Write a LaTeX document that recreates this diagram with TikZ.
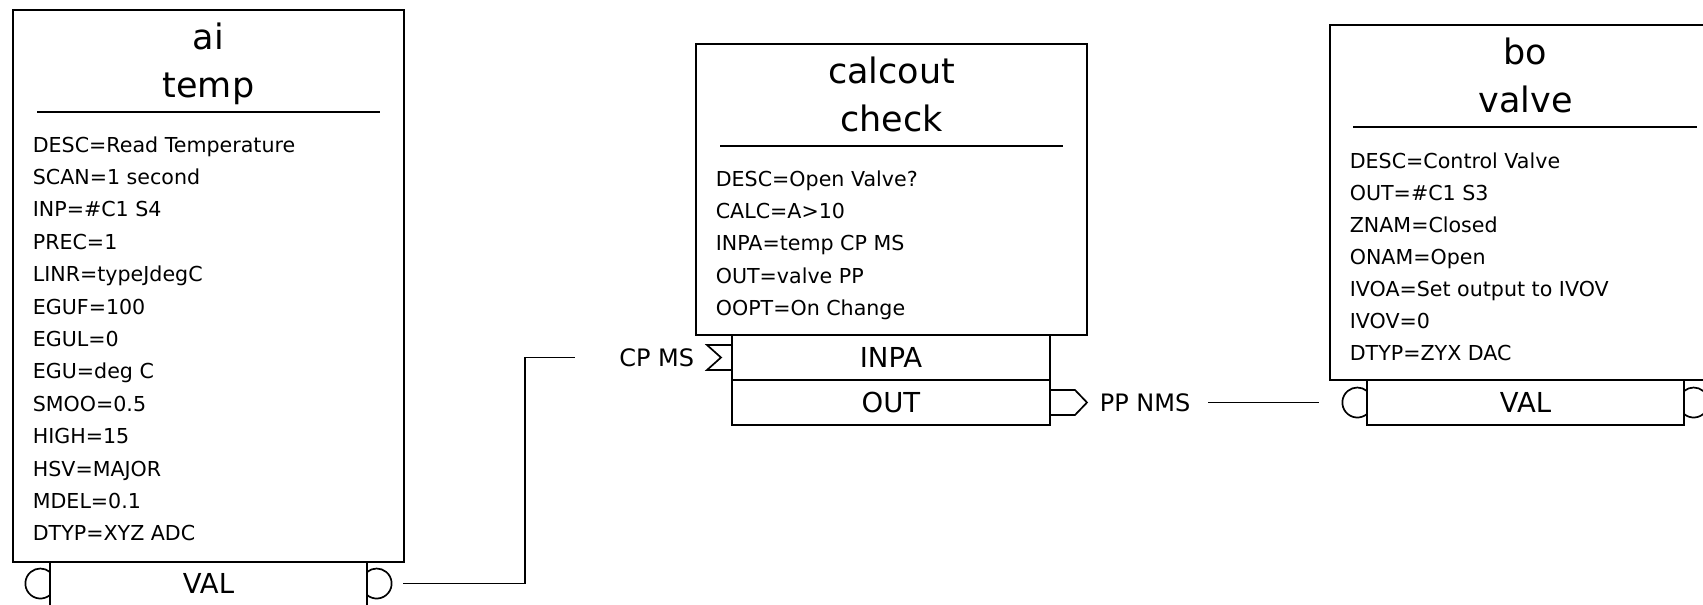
\documentclass[tikz,border=0pt]{standalone}
\usepackage{fontspec}
\setmainfont{DejaVu Sans}
\newcommand\ttlfont{\fontsize{35}{40}\selectfont}
\newcommand\recfont{\fontsize{20.6}{24}\selectfont}
\newcommand\fldfont{\fontsize{27.5}{32}\selectfont}
\newcommand\lnkfont{\fontsize{24}{28}\selectfont}
\begin{document}
\begin{tikzpicture}[x=1pt,y=-1pt,line width=1.7pt,
  record/.style={draw,rectangle,inner sep=0pt,minimum width=391pt},
  fieldrow/.style={draw,rectangle,inner sep=0pt,minimum width=317pt,minimum height=45pt},
  rtitle/.style={anchor=base,inner sep=0pt,font=\ttlfont},
  attr/.style={anchor=base west,inner sep=0pt,font=\recfont},
  fld/.style={anchor=base,inner sep=0pt,font=\fldfont},
  lnk/.style={inner sep=0pt,font=\lnkfont},
  wire/.style={line width=1.7pt}]
\useasboundingbox (0,0) rectangle (1703,605);
\clip (0,0) rectangle (1703,605);

% ---------------- ai record "temp" ----------------
\node[record,minimum height=552pt] (ai) at (208.5,286) {};
\node[rtitle] (aiType) at (208.5,49) {ai};
\node[rtitle] (aiName) at (208.5,97) {temp};
\draw (37,112) -- (380,112);
\foreach \t [count=\i from 0] in {DESC=Read Temperature,SCAN=1 second,INP=\#C1 S4,PREC=1,LINR=typeJdegC,EGUF=100,EGUL=0,EGU=deg C,SMOO=0.5,HIGH=15,HSV=MAJOR,MDEL=0.1,DTYP=XYZ ADC}
  \node[attr] (ai-\i) at (32,152+32.4*\i) {\t};
\node[fieldrow] (aiVAL) at (208.5,584.5) {};
\node[fld] (aiVALlbl) at (208.5,593) {VAL};
\draw (50,595) arc[start angle=50,end angle=310,radius=15];
\draw (367,595) arc[start angle=130,end angle=-130,radius=15];

% ---------------- calcout record "check" ----------------
\node[record,minimum height=291pt] (calc) at (891.5,189.5) {};
\node[rtitle] (calcType) at (891.5,83) {calcout};
\node[rtitle] (calcName) at (891.5,131) {check};
\draw (720,146) -- (1063,146);
\foreach \t [count=\i from 0] in {DESC=Open Valve?,CALC=A>10,INPA=temp CP MS,OUT=valve PP,OOPT=On Change}
  \node[attr] (calc-\i) at (715,186+32.4*\i) {\t};
\node[fieldrow,minimum width=318pt] (calcINPA) at (891,357.5) {};
\node[fld] (calcINPAlbl) at (891,367.5) {INPA};
\node[fieldrow,minimum width=318pt] (calcOUT) at (891,402.5) {};
\node[fld] (calcOUTlbl) at (891,412.5) {OUT};
% input link marker
\draw (732,345) -- (707,345) -- (721,357.5) -- (707,370) -- (732,370);
% output link marker
\draw (1050,390) -- (1075,390) -- (1087,402.5) -- (1075,415) -- (1050,415);

% ---------------- bo record "valve" ----------------
\node[record,minimum height=355pt] (bo) at (1525.5,202.5) {};
\node[rtitle] (boType) at (1525.5,64) {bo};
\node[rtitle] (boName) at (1525.5,112) {valve};
\draw (1353,127) -- (1697,127);
\foreach \t [count=\i from 0] in {DESC=Control Valve,OUT=\#C1 S3,ZNAM=Closed,ONAM=Open,IVOA=Set output to IVOV,IVOV=0,DTYP=ZYX DAC}
  \node[attr] (bo-\i) at (1349,168+32.1*\i) {\t};
\node[fieldrow] (boVAL) at (1525.5,402.5) {};
\node[fld] (boVALlbl) at (1525.5,412.5) {VAL};
\draw (1367,414) arc[start angle=50,end angle=310,radius=15];
\draw (1684,414) arc[start angle=130,end angle=-130,radius=15];

% ---------------- links ----------------
\node[lnk,anchor=base east] (cpms) at (695,366) {CP MS};
\node[lnk,anchor=base west] (ppnms) at (1099,411) {PP NMS};
\coordinate (aiOut) at (403,583.5);
\coordinate (knee) at (525,357.5);
\coordinate (inpaIn) at (575,357.5);
\draw[wire] (aiOut) -| (knee) -- (inpaIn);
\coordinate (outEnd) at (1208,402.5);
\coordinate (valIn) at (1319,402.5);
\draw[wire] (outEnd) -- (valIn);
\end{tikzpicture}
\end{document}
